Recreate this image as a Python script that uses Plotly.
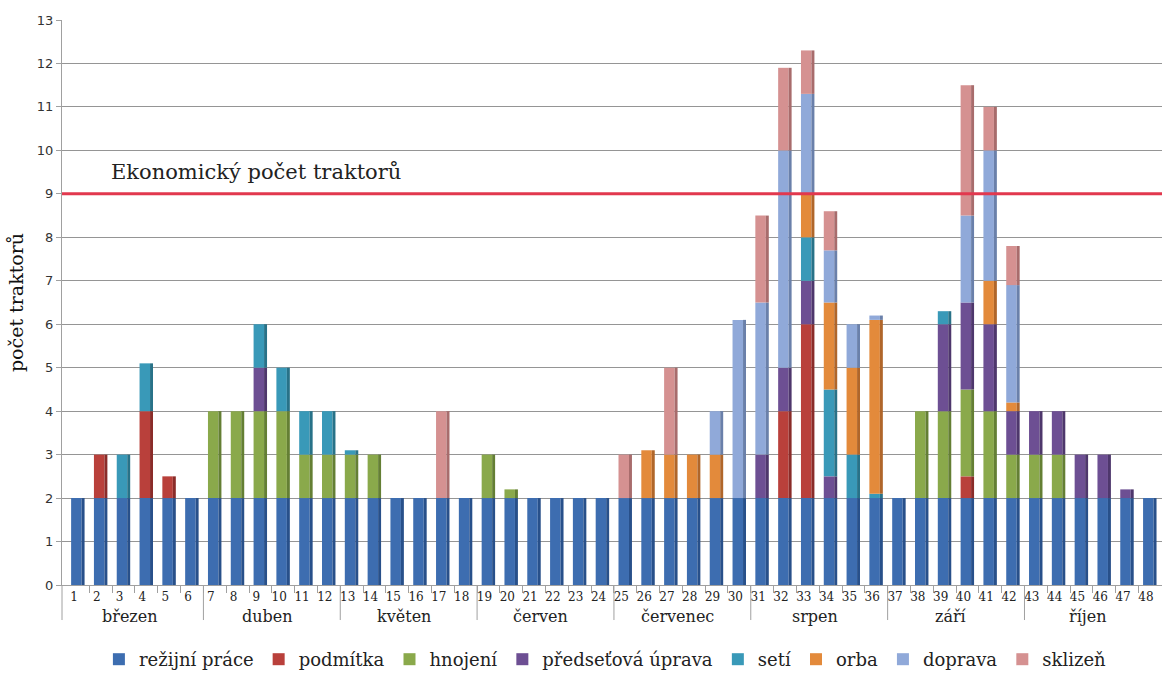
import numpy as np
import plotly.graph_objects as go

# Week numbers and month groups (6 weeks per month)
weeks = list(range(1, 49))
months = ["březen", "duben", "květen", "červen", "červenec", "srpen", "září", "říjen"]
weeks_per_month = 6

# Tractor counts per operation and week
rezijni_prace = [2, 2, 2, 2, 2, 2,   2, 2, 2, 2, 2, 2,   2, 2, 2, 2, 2, 2,   2, 2, 2, 2, 2, 2,
                 2, 2, 2, 2, 2, 2,   2, 2, 2, 2, 2, 2,   2, 2, 2, 2, 2, 2,   2, 2, 2, 2, 2, 2]
podmitka = [0, 1, 0, 2, 0.5, 0,   0, 0, 0, 0, 0, 0,   0, 0, 0, 0, 0, 0,   0, 0, 0, 0, 0, 0,
            0, 0, 0, 0, 0, 0,     0, 2, 4, 0, 0, 0,   0, 0, 0, 0.5, 0, 0, 0, 0, 0, 0, 0, 0]
hnojeni = [0, 0, 0, 0, 0, 0,   2, 2, 2, 2, 1, 1,   1, 1, 0, 0, 0, 0,   1, 0.2, 0, 0, 0, 0,
           0, 0, 0, 0, 0, 0,   0, 0, 0, 0, 0, 0,   0, 2, 2, 2, 2, 1,   1, 1, 0, 0, 0, 0]
predsetova_uprava = [0, 0, 0, 0, 0, 0,   0, 0, 1, 0, 0, 0,   0, 0, 0, 0, 0, 0,   0, 0, 0, 0, 0, 0,
                     0, 0, 0, 0, 0, 0,   1, 1, 1, 0.5, 0, 0, 0, 0, 2, 2, 2, 1,   1, 1, 1, 1, 0.2, 0]
seti = [0, 0, 1, 1.1, 0, 0,   0, 0, 1, 1, 1, 1,   0.1, 0, 0, 0, 0, 0,   0, 0, 0, 0, 0, 0,
        0, 0, 0, 0, 0, 0,     0, 0, 1, 2, 1, 0.1, 0, 0, 0.3, 0, 0, 0,   0, 0, 0, 0, 0, 0]
orba = [0, 0, 0, 0, 0, 0,   0, 0, 0, 0, 0, 0,   0, 0, 0, 0, 0, 0,   0, 0, 0, 0, 0, 0,
        0, 1.1, 1, 1, 1, 0, 0, 0, 1, 2, 2, 4,   0, 0, 0, 0, 1, 0.2, 0, 0, 0, 0, 0, 0]
doprava = [0, 0, 0, 0, 0, 0,   0, 0, 0, 0, 0, 0,   0, 0, 0, 0, 0, 0,   0, 0, 0, 0, 0, 0,
           0, 0, 0, 0, 1, 4.1, 3.5, 5, 2.3, 1.2, 1, 0.1,   0, 0, 0, 2, 3, 2.7,   0, 0, 0, 0, 0, 0]
sklizen = [0, 0, 0, 0, 0, 0,   0, 0, 0, 0, 0, 0,   0, 0, 0, 0, 2, 0,   0, 0, 0, 0, 0, 0,
           1, 0, 2, 0, 0, 0,   2, 1.9, 1, 0.9, 0, 0,   0, 0, 0, 3, 1, 0.9,   0, 0, 0, 0, 0, 0]

economic_count = 9
economic_label = "Ekonomický počet traktorů"

series = [
    ("režijní práce", rezijni_prace, "#3d6db0", "#28508a"),
    ("podmítka", podmitka, "#b9403b", "#8a2c29"),
    ("hnojení", hnojeni, "#8aa94b", "#647f34"),
    ("předseťová úprava", predsetova_uprava, "#6d4f93", "#4e376c"),
    ("setí", seti, "#3999b8", "#287288"),
    ("orba", orba, "#e38a3b", "#b0662a"),
    ("doprava", doprava, "#90a9d9", "#6a80aa"),
    ("sklizeň", sklizen, "#d59191", "#a86c6c"),
]

SERIF = "DejaVu Serif"
SANS = "DejaVu Sans"

fig = go.Figure()
base = np.zeros(len(weeks))
for name, vals, face, side in series:
    v = np.array(vals, dtype=float)
    # front face of the column
    fig.add_trace(go.Bar(
        x=weeks, y=v, base=base.copy(), name=name,
        width=0.46, offset=-0.3,
        marker=dict(color=face, line=dict(width=0)),
    ))
    # darker side face for a slight depth effect
    fig.add_trace(go.Bar(
        x=weeks, y=v, base=base.copy(), name=name, showlegend=False,
        width=0.13, offset=0.16,
        marker=dict(color=side, line=dict(width=0)),
        hoverinfo="skip",
    ))
    base = base + v

shapes = []
# economic threshold line
shapes.append(dict(type="line", xref="paper", yref="y", x0=0, x1=1,
                   y0=economic_count, y1=economic_count,
                   line=dict(color="#e2384e", width=3), layer="above"))
# white box behind the threshold label
shapes.append(dict(type="rect", xref="paper", yref="y", x0=0.028, x1=0.314,
                   y0=economic_count + 0.2, y1=economic_count + 1.3,
                   fillcolor="white", line=dict(width=0), layer="between"))
# month group dividers
n_groups = len(months)
for g in range(n_groups):
    if g == 0:
        shapes.append(dict(type="line", xref="paper", yref="paper", x0=0, x1=0,
                           y0=0, y1=-0.062, line=dict(color="#a0a0a0", width=1)))
    else:
        xb = g * weeks_per_month + 0.5
        shapes.append(dict(type="line", xref="x", yref="paper", x0=xb, x1=xb,
                           y0=0, y1=-0.062, line=dict(color="#a0a0a0", width=1)))

annotations = []
for g, m in enumerate(months):
    grp = weeks[g * weeks_per_month:(g + 1) * weeks_per_month]
    annotations.append(dict(x=float(np.mean(grp)) - 0.2, y=-0.055, xref="x", yref="paper",
                            text=m, showarrow=False, xanchor="center", yanchor="middle",
                            font=dict(family=SERIF, size=16, color="#222")))
annotations.append(dict(x=0.176, y=economic_count + 0.5, xref="paper", yref="y",
                        text=economic_label, showarrow=False,
                        xanchor="center", yanchor="middle",
                        font=dict(family=SERIF, size=21, color="#222")))

fig.update_layout(
    width=1162, height=678,
    margin=dict(l=62, r=0, t=20, b=93, autoexpand=False),
    plot_bgcolor="white", paper_bgcolor="white",
    barmode="overlay",
    shapes=shapes, annotations=annotations,
    legend=dict(orientation="h", x=0.494, xanchor="center",
                yref="container", y=0.0, yanchor="bottom",
                font=dict(family=SERIF, size=18, color="#222"),
                itemwidth=30, tracegroupgap=0),
    xaxis=dict(
        range=[0.30, 48.53],
        tickmode="array", tickvals=weeks, ticktext=[str(w) for w in weeks],
        ticks="", showgrid=False, zeroline=False,
        showline=True, linecolor="#a0a0a0",
        tickfont=dict(family=SERIF, size=12, color="#222"),
        ticklabelshift=-4, ticklabelstandoff=1,
        minor=dict(tickmode="array", tickvals=[w + 0.5 for w in weeks[:-1]],
                   ticks="outside", ticklen=7, tickcolor="#a0a0a0", showgrid=False),
    ),
    yaxis=dict(
        range=[0, 13], dtick=1, tick0=0,
        showgrid=True, gridcolor="#959595", gridwidth=1,
        zeroline=False, showline=True, linecolor="#a0a0a0",
        ticks="outside", ticklen=5, tickcolor="#a0a0a0",
        tickfont=dict(family=SANS, size=13, color="#333"),
        title=dict(text="počet traktorů", font=dict(family=SERIF, size=19, color="#111"),
                   standoff=8),
    ),
    showlegend=True,
)

fig.write_html("out.html")
